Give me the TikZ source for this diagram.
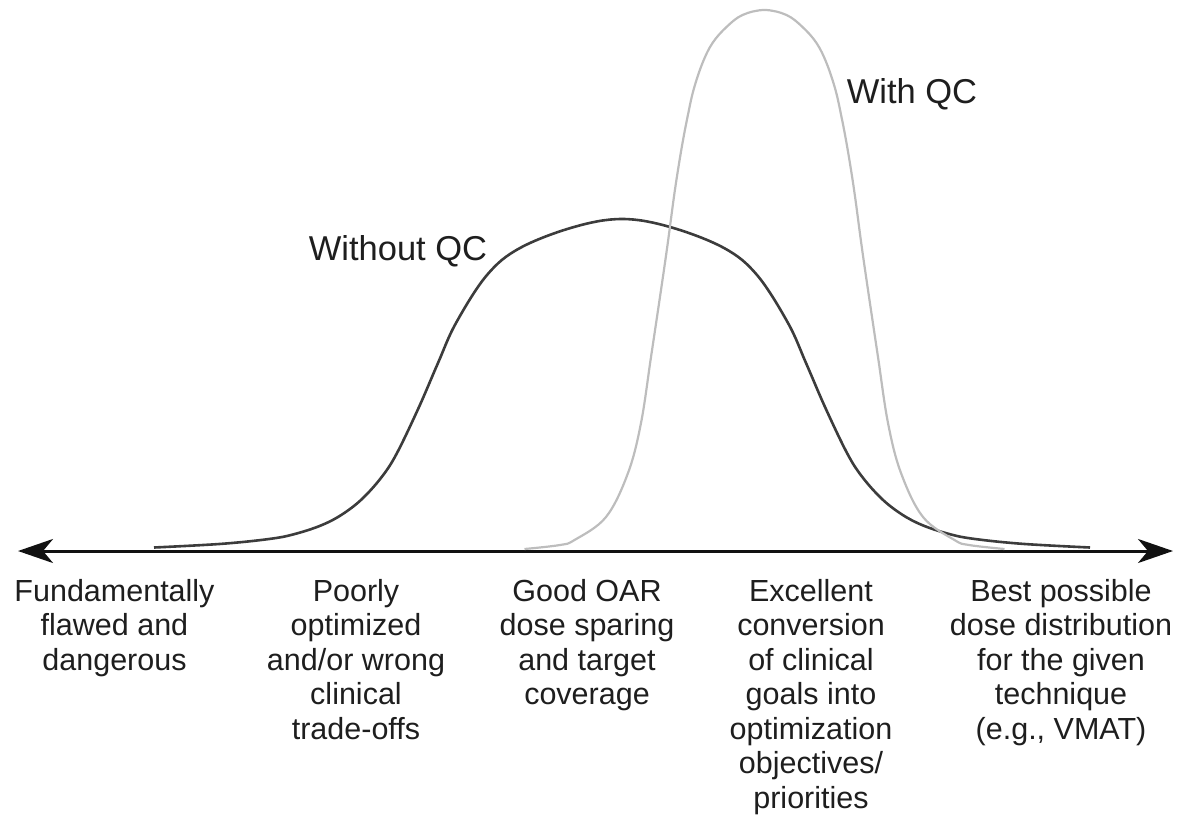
\documentclass[tikz,border=0pt]{standalone}
\usepackage{fontspec}
\setmainfont{Liberation Sans}
\usetikzlibrary{arrows.meta}
\definecolor{darkcurve}{HTML}{3C3C3C}
\definecolor{lightcurve}{HTML}{BDBDBD}
\definecolor{axiscol}{HTML}{111111}
\definecolor{txt}{HTML}{1E1E1E}
\begin{document}
\begin{tikzpicture}[x=1pt,y=-1pt,
  axisline/.style={line width=3pt, draw=axiscol,
    {Stealth[length=35pt,width=24pt,inset=10pt]}-{Stealth[length=35pt,width=24pt,inset=10pt]}},
  darkline/.style={line width=2.6pt, draw=darkcurve, line join=round},
  lightline/.style={line width=2.2pt, draw=lightcurve, line join=round},
  curvelabel/.style={anchor=base, inner sep=0pt, text=txt, font=\fontsize{34.5pt}{40pt}\selectfont},
  scalelabel/.style={anchor=north, inner sep=0pt, align=center, text=txt, font=\fontsize{30.5pt}{34.5pt}\selectfont}]
\useasboundingbox (0,0) rectangle (1177,830);

% axis
\coordinate (axL) at (18,551);
\coordinate (axR) at (1173,551);
\draw[axisline] (axL) -- (axR);

% Without QC curve
\draw[darkline] plot[smooth, tension=0.6] coordinates {
 (154,547.5) (222,543.8) (272,538.6) (297,533.4) (322,525) (342,514.5)
 (362,499) (382,476.6) (397,453) (419,407) (438,363) (456,323) (487,275)
 (520,248) (574,227) (622,219) (670,227) (724,248) (757,275) (788,323)
 (806,363) (825,407) (847,453) (862,476.6) (882,499) (902,514.5)
 (922,525) (947,533.4) (972,538.6) (1022,543.8) (1090,547.5)};

% With QC curve
\draw[lightline] plot[smooth, tension=0.6] coordinates {
 (524.5,549) (560,545) (574.5,540) (606,517) (628,473) (641,423) (651,357)
 (661,290) (667.5,245) (673.5,200) (677.5,173) (682.5,143) (687.5,117)
 (693.5,90) (702.5,63) (712.5,43) (726.5,27) (742.5,15) (764.5,10)
 (786.5,15) (802.5,27) (816.5,43) (826.5,63) (835.5,90) (841.5,117)
 (846.5,143) (851.5,173) (855.5,200) (861.5,245) (868,290) (878,357)
 (888,423) (901,473) (923,517) (954.5,540) (969,545) (1004.5,549)};

% curve labels
\node[curvelabel] (withoutqc) at (398,260) {Without QC};
\node[curvelabel] (withqc) at (912,103) {With QC};

% scale labels
\node[scalelabel] (l1) at (114.5,579) {Fundamentally\\flawed and\\dangerous};
\node[scalelabel] (l2) at (356,579) {Poorly\\optimized\\and/or wrong\\clinical\\trade-offs};
\node[scalelabel] (l3) at (587,579) {Good OAR\\dose sparing\\and target\\coverage};
\node[scalelabel] (l4) at (811,579) {Excellent\\conversion\\of clinical\\goals into\\optimization\\objectives/\\priorities};
\node[scalelabel] (l5) at (1061,579) {Best possible\\dose distribution\\for the given\\technique\\(e.g., VMAT)};
\end{tikzpicture}
\end{document}
